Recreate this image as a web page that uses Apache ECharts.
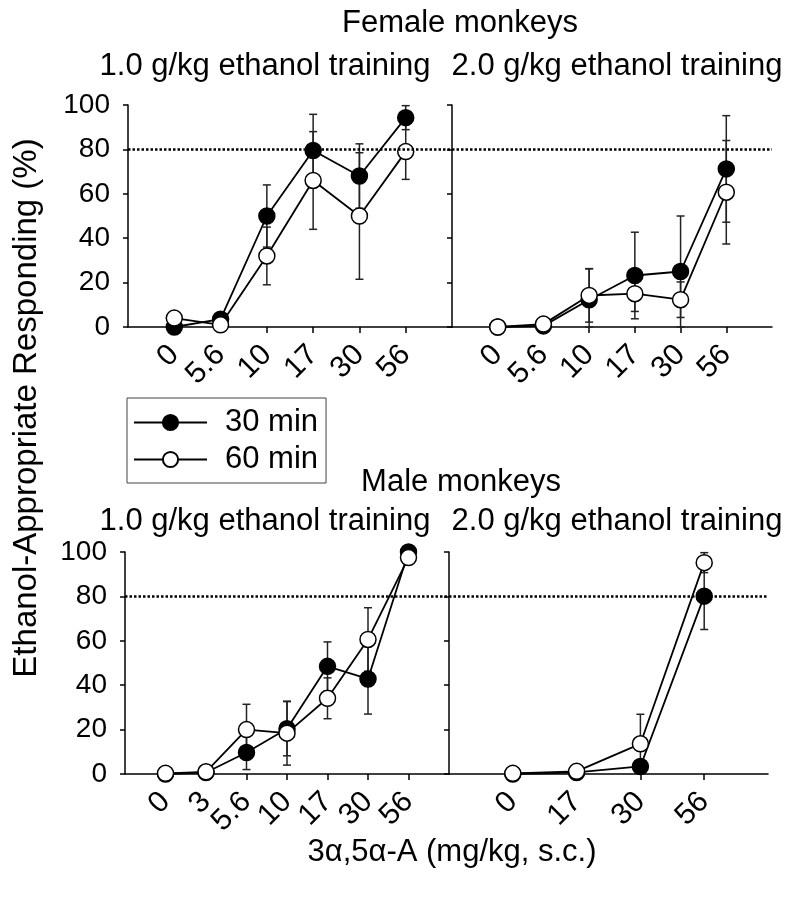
<!DOCTYPE html>
<html>
<head>
<meta charset="utf-8">
<script src="https://cdn.jsdelivr.net/npm/echarts@6/dist/echarts.min.js"></script>
<style>html,body{margin:0;padding:0;background:#fff}#c{width:800px;height:899px}</style>
</head>
<body>
<div id="c"></div>
<script>
// ---- data ----
const femaleDoses = ['0', '5.6', '10', '17', '30', '56'];
const maleLowDoses = ['0', '3', '5.6', '10', '17', '30', '56'];
const maleHighDoses = ['0', '17', '30', '56'];
const yTicks = [0, 20, 40, 60, 80, 100];
const criterion = 80;

const female1_30 = [0, 3.5, 50, 79.5, 68, 94.3];
const female1_30_sem = [0, 0, 14, 16.3, 14.5, 5.4];
const female1_60 = [4, 1, 32, 66, 50, 79];
const female1_60_sem = [0, 0, 13, 22, 28.5, 12.5];

const female2_30 = [0, 0.5, 12.3, 23.2, 25, 71.2];
const female2_30_sem = [0, 0, 14, 19.5, 25, 24];
const female2_60 = [0, 1.3, 14.2, 15, 12.3, 60.7];
const female2_60_sem = [0, 0, 12, 8, 8, 23.3];

const male1_30 = [0, 0.7, 9.7, 20.4, 48.5, 42.8, 100];
const male1_30_sem = [0, 0, 7.7, 12.2, 11, 15.8, 0];
const male1_60 = [0.3, 1, 20, 18.4, 34.1, 60.6, 97.5];
const male1_60_sem = [0, 0, 11.4, 14.4, 9.2, 14.3, 0];

const male2_30 = [0, 0.7, 3.4, 80.1];
const male2_30_sem = [0, 0, 0, 15];
const male2_60 = [0.3, 1.2, 13.6, 95.2];
const male2_60_sem = [0, 0, 13.3, 4.5];

const seriesNames = ['30 min', '60 min'];
const panelTitles = ['Female monkeys', 'Male monkeys'];
const trainingTitles = ['1.0 g/kg ethanol training', '2.0 g/kg ethanol training'];
const yAxisTitle = 'Ethanol-Appropriate Responding (%)';
const xAxisTitle = '3\u03b1,5\u03b1-A (mg/kg, s.c.)';

// ---- layout ----
const FONT = 'Liberation Sans, Arial, Helvetica, sans-serif';
const panels = [
  { grid: { left: 128, top: 105, width: 324, height: 222 }, doses: femaleDoses, v30: female1_30, e30: female1_30_sem, v60: female1_60, e60: female1_60_sem, labels: true },
  { grid: { left: 452, top: 105, width: 320, height: 222 }, doses: femaleDoses, v30: female2_30, e30: female2_30_sem, v60: female2_60, e60: female2_60_sem, labels: false },
  { grid: { left: 125, top: 552, width: 324, height: 222 }, doses: maleLowDoses, v30: male1_30, e30: male1_30_sem, v60: male1_60, e60: male1_60_sem, labels: true },
  { grid: { left: 449, top: 552, width: 319, height: 222 }, doses: maleHighDoses, v30: male2_30, e30: male2_30_sem, v60: male2_60, e60: male2_60_sem, labels: false }
];

function errItem(params, api) {
  const x = api.value(0), y = api.value(1), e = api.value(2);
  if (!e) return null;
  const lo = Math.max(0, y - e), hi = Math.min(100, y + e);
  const pLo = api.coord([x, lo]), pHi = api.coord([x, hi]);
  const w = 4;
  const st = { stroke: '#222', lineWidth: 1.5 };
  return {
    type: 'group',
    children: [
      { type: 'line', shape: { x1: pLo[0], y1: pLo[1], x2: pHi[0], y2: pHi[1] }, style: st },
      { type: 'line', shape: { x1: pHi[0] - w, y1: pHi[1], x2: pHi[0] + w, y2: pHi[1] }, style: st },
      { type: 'line', shape: { x1: pLo[0] - w, y1: pLo[1], x2: pLo[0] + w, y2: pLo[1] }, style: st }
    ]
  };
}

const grids = [], xAxes = [], yAxes = [], series = [];
panels.forEach((p, i) => {
  grids.push(p.grid);
  const cats = [' '].concat(p.doses, ['  ']);
  const isDose = (idx) => idx > 0 && idx < cats.length - 1;
  xAxes.push({
    type: 'category', gridIndex: i, data: cats, boundaryGap: false,
    axisLine: { show: true, lineStyle: { color: '#000', width: 1.5 } },
    axisTick: { show: true, length: 6, lineStyle: { color: '#000', width: 1.5 }, interval: (idx) => isDose(idx) },
    axisLabel: {
      show: true, rotate: 45, margin: 23, fontSize: 30, color: '#000', fontFamily: FONT,
      interval: 0, hideOverlap: false
    },
    splitLine: { show: false }
  });
  yAxes.push({
    type: 'value', gridIndex: i, min: 0, max: 100, interval: 20,
    axisLine: { show: true, lineStyle: { color: '#000', width: 1.5 } },
    axisTick: { show: true, length: 5, lineStyle: { color: '#000', width: 1.5 } },
    axisLabel: { show: p.labels, margin: 18, fontSize: 28, color: '#000', fontFamily: FONT },
    splitLine: { show: false }
  });
  const groups = [[p.v30, p.e30, '#000'], [p.v60, p.e60, '#fff']];
  groups.forEach((g, s) => {
    series.push({
      type: 'custom', name: 'err', xAxisIndex: i, yAxisIndex: i, z: 1,
      renderItem: errItem, encode: { x: 0, y: 1 },
      data: g[0].map((v, k) => [k + 1, v, g[1][k]])
    });
  });
  groups.forEach((g, s) => {
    const ser = {
      type: 'line', name: seriesNames[s], xAxisIndex: i, yAxisIndex: i, z: 3 + s,
      data: g[0].map((v, k) => [k + 1, v]),
      symbol: 'circle', symbolSize: 16, showSymbol: true,
      lineStyle: { color: '#000', width: 1.8 },
      itemStyle: { color: g[2], borderColor: '#000', borderWidth: 1.5 },
      emphasis: { disabled: true }
    };
    if (s === 0) {
      ser.markLine = {
        silent: true, symbol: 'none', label: { show: false },
        lineStyle: { color: '#000', type: [2.5, 2], width: 2.5 },
        data: [{ yAxis: criterion }]
      };
    }
    series.push(ser);
  });
});

const textStyle = (txt, x, y, size, extra) => Object.assign({
  type: 'text', x: x, y: y,
  style: { text: txt, fontSize: size, fontFamily: FONT, fill: '#000', textAlign: 'center', textVerticalAlign: 'middle' }
}, extra || {});

const graphics = [
  textStyle(panelTitles[0], 460, 23, 31),
  textStyle(trainingTitles[0], 265, 66, 31),
  textStyle(trainingTitles[1], 617, 66, 31),
  textStyle(panelTitles[1], 461, 482, 31),
  textStyle(trainingTitles[0], 265, 521, 31),
  textStyle(trainingTitles[1], 617, 521, 31),
  textStyle(xAxisTitle, 452, 852, 31),
  textStyle(yAxisTitle, 27, 408, 33, { rotation: Math.PI / 2 })
];

const chart = echarts.init(document.getElementById('c'), null, { renderer: 'canvas' });
chart.setOption({
  animation: false,
  backgroundColor: '#fff',
  grid: grids,
  xAxis: xAxes,
  yAxis: yAxes,
  legend: {
    data: seriesNames, orient: 'vertical', left: 127, top: 398,
    itemWidth: 73, itemHeight: 19, itemGap: 6, padding: [9, 8, 8, 6],
    borderColor: '#444', borderWidth: 1, selectedMode: false,
    textStyle: { fontSize: 31, color: '#000', fontFamily: FONT, padding: [0, 0, 0, 13] }
  },
  graphic: graphics,
  series: series
});
</script>
</body>
</html>
